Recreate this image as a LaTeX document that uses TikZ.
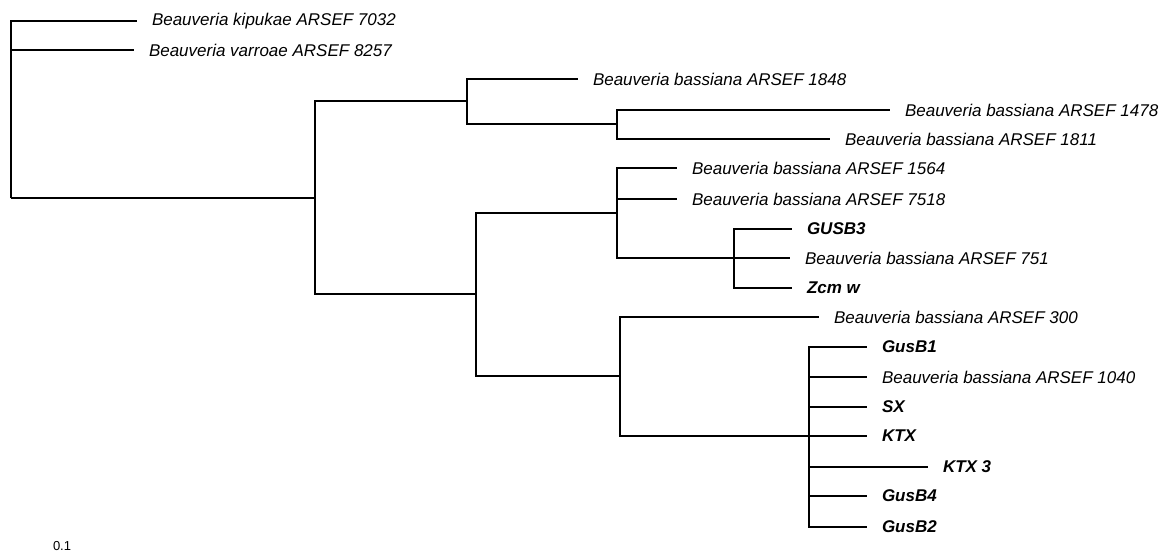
\documentclass[tikz,border=0pt]{standalone}
\usepackage{fontspec}
\setmainfont{Liberation Sans}
\usetikzlibrary{positioning}

\begin{document}
\begin{tikzpicture}[
  x=1pt, y=-1pt,
  every node/.style={
    anchor=west,
    inner xsep=15pt,
    inner ysep=0pt,
    outer sep=0pt,
    text=black,
    font=\fontsize{17}{20}\selectfont\itshape
  },
  strain/.style={},
  isolate/.style={font=\fontsize{17}{20}\selectfont\bfseries\itshape},
  scalelabel/.style={inner xsep=0pt, font=\fontsize{13}{15}\selectfont},
  branch/.style={draw, line width=2pt, black, line join=miter},
  ]
\useasboundingbox (0,0) rectangle (1162,551);

% internal nodes of the tree
\coordinate (root) at (11,198);
\coordinate (cA) at (315,198);
\coordinate (cB) at (467,101);
\coordinate (cD) at (617,124);
\coordinate (cC) at (476,294);
\coordinate (cE) at (617,213);
\coordinate (cG) at (734,258);
\coordinate (cF) at (620,376);
\coordinate (cH) at (809,436);

% reference strains
\begin{scope}[every node/.append style={strain}]
  \node (kip7032) at (137,21) {Beauveria kipukae ARSEF 7032};
  \node (var8257) at (134,50) {Beauveria varroae ARSEF 8257};
  \node (bas1848) at (578,79) {Beauveria bassiana ARSEF 1848};
  \node (bas1478) at (890,110) {Beauveria bassiana ARSEF 1478};
  \node (bas1811) at (830,139) {Beauveria bassiana ARSEF 1811};
  \node (bas1564) at (677,168) {Beauveria bassiana ARSEF 1564};
  \node (bas7518) at (677,199) {Beauveria bassiana ARSEF 7518};
  \node (bas751) at (790,258) {Beauveria bassiana ARSEF 751};
  \node (bas300) at (819,317) {Beauveria bassiana ARSEF 300};
  \node (bas1040) at (867,377) {Beauveria bassiana ARSEF 1040};
\end{scope}

% isolates of this study
\begin{scope}[every node/.append style={isolate}]
  \node (gusb3) at (792,229) {GUSB3};
  \node (zcmw) at (792,288) {Zcm w};
  \node (gusb1) at (867,347) {GusB1};
  \node (sx) at (867,407) {SX};
  \node (ktx) at (867,436) {KTX};
  \node (ktx3) at (928,467) {KTX 3};
  \node (gusb4) at (867,496) {GusB4};
  \node (gusb2) at (867,527) {GusB2};
\end{scope}

\node[scalelabel] (scale) at (53,546) {0.1};

\path[branch] (root) |- (kip7032.west)
              (root) |- (var8257.west)
              (root) -- (cA)
              (cA) |- (cB)
              (cA) |- (cC)
              (cB) |- (bas1848.west)
              (cB) |- (cD)
              (cD) |- (bas1478.west)
              (cD) |- (bas1811.west)
              (cC) |- (cE)
              (cC) |- (cF)
              (cE) |- (bas1564.west)
              (cE) |- (bas7518.west)
              (cE) |- (cG)
              (cG) |- (gusb3.west)
              (cG) -- (bas751.west)
              (cG) |- (zcmw.west)
              (cF) |- (bas300.west)
              (cF) |- (cH)
              (cH) |- (gusb1.west)
              (cH) |- (bas1040.west)
              (cH) |- (sx.west)
              (cH) -- (ktx.west)
              (cH) |- (ktx3.west)
              (cH) |- (gusb4.west)
              (cH) |- (gusb2.west)
              ;
\end{tikzpicture}
\end{document}
